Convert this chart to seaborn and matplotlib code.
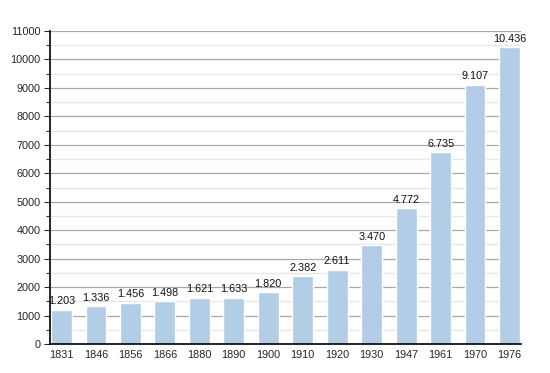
import matplotlib
matplotlib.use("Agg")
import matplotlib.pyplot as plt
import seaborn as sns
import pandas as pd
from matplotlib.ticker import MultipleLocator

years = ["1831", "1846", "1856", "1866", "1880", "1890", "1900", "1910", "1920", "1930", "1947", "1961", "1970", "1976"]
population = [1203, 1336, 1456, 1498, 1621, 1633, 1820, 2382, 2611, 3470, 4772, 6735, 9107, 10436]
labels = ["1.203", "1.336", "1.456", "1.498", "1.621", "1.633", "1.820", "2.382", "2.611", "3.470", "4.772", "6.735", "9.107", "10.436"]

sns.set_style("white")
plt.rcParams['font.family'] = ['Liberation Sans', 'DejaVu Sans']

df = pd.DataFrame({"year": years, "pop": population})
fig = plt.figure(figsize=(5.5, 3.73), dpi=100)
ax = fig.add_axes([50/550, 29/373, 471/550, 313/373])

ax.set_ylim(0, 11000)
ax.yaxis.set_major_locator(MultipleLocator(1000))
ax.yaxis.set_minor_locator(MultipleLocator(500))
ax.grid(axis="y", which="major", color="#a8a8a8", linewidth=0.9)
ax.grid(axis="y", which="minor", color="#e6e6e6", linewidth=0.9)
ax.set_axisbelow(True)

sns.barplot(data=df, x="year", y="pop", color="#b2cde6", width=0.6, ax=ax, saturation=1)
ax.set_xlim(-0.33, 13.33)

for i, (v, t) in enumerate(zip(population, labels)):
    ax.text(i, v + 120, t, ha="center", va="bottom", fontsize=7.8, color="#111111")

for s in ["top", "right"]:
    ax.spines[s].set_visible(False)
ax.spines["left"].set_color("black")
ax.spines["bottom"].set_color("black")
ax.spines["left"].set_linewidth(1.2)
ax.spines["bottom"].set_linewidth(1.2)
ax.tick_params(axis="y", which="major", left=True, length=4, width=0.8, labelsize=7.8, pad=3)
ax.tick_params(axis="y", which="minor", left=True, length=3, width=0.8)
ax.tick_params(axis="x", bottom=False, labelsize=7.8, pad=0.5)
ax.set_xlabel("")
ax.set_ylabel("")

fig.savefig("out.png", dpi=100)
